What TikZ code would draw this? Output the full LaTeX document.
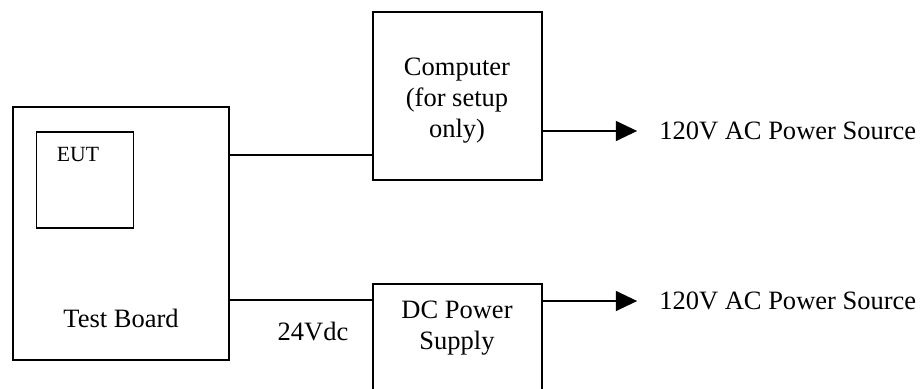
\documentclass[tikz,border=0pt]{standalone}
\usepackage{fontspec}
\setmainfont{Liberation Serif}
\usetikzlibrary{arrows.meta}

\tikzset{
  blk/.style={draw, line width=1.1pt, rectangle, inner sep=0pt},
  txt/.style={font=\fontsize{18.85}{22}\selectfont, align=center, inner sep=0pt},
  wire/.style={draw, line width=0.75pt},
  arr/.style={wire, -{Triangle[length=15pt,width=14.2pt]}, shorten >=15.6pt},
}

\begin{document}
\begin{tikzpicture}[x=0.025cm, y=-0.025cm]
			\useasboundingbox (0,0) rectangle (920,388);
			\clip (0,0) rectangle (920,388);
			% blocks
			\node[blk, minimum width=5.4cm, minimum height=6.325cm] (tb) at (121,233.5) {};
			\node[blk, minimum width=2.425cm, minimum height=2.4cm] (eut) at (85,180) {};
			\node[blk, minimum width=4.225cm, minimum height=4.2cm] (comp) at (457.5,96) {};
			\node[blk, minimum width=4.225cm, minimum height=3.25cm] (dc) at (457.5,349) {};
			% labels
			\node[txt, font=\fontsize{15.4}{18}\selectfont] (eutlbl) at (78,155) {EUT};
			\node[txt] (tblbl) at (121,318) {Test Board};
			\node[txt] (complbl) at (457,101) {Computer\\(for setup\\only)};
			\node[txt] (dclbl) at (457,328) {DC Power\\Supply};
			\node[txt] (vdc) at (313,332) {24Vdc};
			\node[txt, anchor=west] (src1) at (659,131) {120V AC Power Source};
			\node[txt, anchor=west] (src2) at (659,301) {120V AC Power Source};
			% wiring
			\coordinate (y1) at (0,155);
			\coordinate (y2) at (0,300);
			\draw[wire] (tb.east |- y1) -- (comp.west |- y1);
			\draw[wire] (tb.east |- y2) -- (dc.west |- y2);
			\draw[arr] (comp.east |- src1.west) -- (src1.west);
			\draw[arr] (dc.east |- src2.west) -- (src2.west);
		\end{tikzpicture}
\end{document}
